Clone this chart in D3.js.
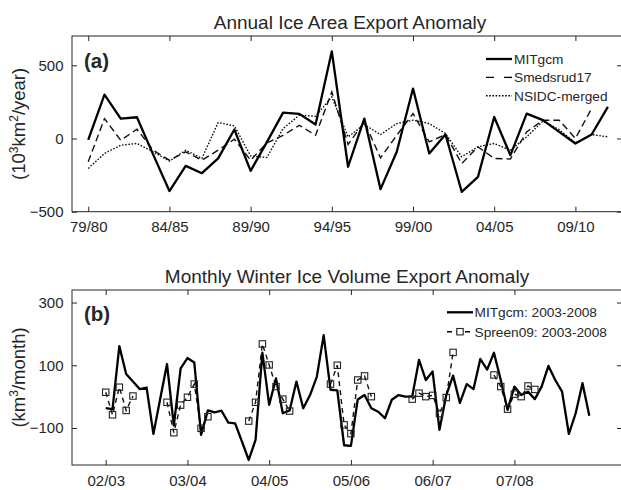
<!DOCTYPE html>
<html>
<head>
<meta charset="utf-8">
<script src="https://cdn.jsdelivr.net/npm/d3@7"></script>
<style>
  html, body { margin: 0; padding: 0; background: #fff; }
  svg { display: block; }
  text { font-family: "Liberation Sans", Arial, Helvetica, sans-serif; fill: #262626; }
</style>
</head>
<body>
<svg id="chart" width="621" height="490"></svg>
<script>
// ---- Panel (a): annual ice area export anomaly (10^3 km^2 / year), seasons 79/80 .. 11/12
const annualSeasonIndex = d3.range(0, 33);           // 0 = 79/80
const annualTickIndex = [0, 5, 10, 15, 20, 25, 30];
const annualTickLabels = ["79/80", "84/85", "89/90", "94/95", "99/00", "04/05", "09/10"];
const annualYTicks = [-500, 0, 500];

const mitgcmAnnual = [-10, 300, 136, 145, -110, -359, -187, -237, -136, 61, -221, -25, 177, 168, 95, 595,
  -193, 136, -346, -91, 341, -102, 27, -364, -262, 147, -114, 170, 125, 45, -34, 27, 216];
const smedsrud17 = [-159, 136, -12, 63, -80, -148, -91, -148, -80, -5, -148, -30, 22, 90, 22, 318,
  -40, 113, -132, 22, 170, -23, 27, -171, -57, -136, -140, 45, 125, 125, 0, 205];
const nsidcMerged = [-205, -102, -46, -34, -91, -155, -80, -136, 109, 86, -119, -130, 68, 159, 152, 284,
  11, 95, 27, 102, 125, 102, 34, -125, -57, -34, -80, 11, 118, 60, -30, 27, 11];

// ---- Panel (b): monthly winter ice volume export anomaly (km^3 / month), months from 02/03 tick
const monthIndex = d3.range(0, 72);
const monthlyTickIndex = [0, 12, 24, 36, 48, 60];
const monthlyTickLabels = ["02/03", "03/04", "04/05", "05/06", "06/07", "07/08"];
const monthlyYTicks = [-100, 100, 300];

const mitgcmMonthly = [-37, -40, 161, 72, 48, 24, 29, -119, -7, 104, -92, 90,
  123, 109, -122, -44, -50, -45, -83, -85, -143, -202, -138, 140,
  -26, 58, -53, -44, 48, -37, 5, 64, 196, 22, 20, -155,
  -157, -9, 5, -37, -48, -69, -10, 5, 0, 0, 117, 53,
  80, -106, 5, 67, -20, 40, 24, 120, 86, 140, 53, -42,
  32, 5, 16, -8, 32, 98, 53, 16, -119, -53, 43, -61];
const spreen09 = [14, -58, 30, -44, 2, null, null, null, null, -18, -115, -27,
  -2, 40, -101, -64, null, null, null, null, null, -78, -18, 168,
  101, 32, -8, -46, null, null, null, null, null, 40, 100, -90,
  -118, 53, 66, 0, null, null, null, null, null, -8, 11, 0,
  4, -54, -3, 141, null, null, null, null, null, 69, 32, -40,
  8, 0, 34, 23, null, null, null, null, null, null, null, null];

const svg = d3.select("#chart");
const left = 72, right = 622;

function frame(g, x, y, xTicks, xLabels, yTicks, top, bottom) {
  g.append("rect")
    .attr("x", left).attr("y", top)
    .attr("width", right - left).attr("height", bottom - top)
    .attr("fill", "none").attr("stroke", "#262626").attr("stroke-width", 1);

  const ax = (axis, tx, ty) => {
    const a = g.append("g").attr("transform", `translate(${tx},${ty})`).call(axis);
    a.select(".domain").remove();
    a.selectAll("line").attr("stroke", "#262626");
    a.selectAll("text").attr("font-size", 15).attr("fill", "#262626")
      .attr("font-family", '"Liberation Sans", Arial, sans-serif');
    return a;
  };
  ax(d3.axisBottom(x).tickValues(xTicks).tickFormat((d, i) => xLabels[i])
      .tickSizeInner(-5).tickSizeOuter(0).tickPadding(10), 0, bottom);
  ax(d3.axisTop(x).tickValues(xTicks).tickFormat("")
      .tickSizeInner(-5).tickSizeOuter(0), 0, top);
  ax(d3.axisLeft(y).tickValues(yTicks).tickFormat(d3.format("d"))
      .tickSizeInner(-5).tickSizeOuter(0).tickPadding(8.5), left, 0);
  ax(d3.axisRight(y).tickValues(yTicks).tickFormat("")
      .tickSizeInner(-5).tickSizeOuter(0), right, 0);
}

function yLabel(g, cx, cy, parts) {
  const t = g.append("text")
    .attr("transform", `translate(${cx},${cy}) rotate(-90)`)
    .attr("text-anchor", "middle")
    .attr("font-size", 18.5);
  parts.forEach(([s, sup]) => {
    const ts = t.append("tspan").text(s);
    if (sup) ts.attr("baseline-shift", "super").attr("font-size", 12);
  });
}

// ================= Panel (a) =================
{
  const top = 36, bottom = 211.7;
  const g = svg.append("g");
  const x = d3.scaleLinear().domain([-1, 32.87]).range([left, right]);
  const y = d3.scaleLinear().domain([-500, 700]).range([bottom, top]);

  frame(g, x, y, annualTickIndex, annualTickLabels, annualYTicks, top, bottom);

  const line = d3.line().x((d, i) => x(annualSeasonIndex[i])).y(d => y(d));

  g.append("path").datum(nsidcMerged).attr("d", line)
    .attr("fill", "none").attr("stroke", "#111").attr("stroke-width", 1.4)
    .attr("stroke-dasharray", "1.6,1.6");
  g.append("path").datum(smedsrud17).attr("d", line)
    .attr("fill", "none").attr("stroke", "#111").attr("stroke-width", 1.4)
    .attr("stroke-dasharray", "7,4");
  g.append("path").datum(mitgcmAnnual).attr("d", line)
    .attr("fill", "none").attr("stroke", "#000").attr("stroke-width", 2.3)
    .attr("stroke-linejoin", "round");

  g.append("text").attr("x", 350).attr("y", 29).attr("text-anchor", "middle")
    .attr("font-size", 19).attr("fill", "#1a1a1a").text("Annual Ice Area Export Anomaly");
  g.append("text").attr("x", 84).attr("y", 68).attr("font-size", 20.5)
    .attr("font-weight", "bold").attr("fill", "#1a1a1a").text("(a)");
  yLabel(g, 25, (top + bottom) / 2, [["(10"], ["3", true], ["km"], ["2", true], ["/year)"]]);

  const legendRows = [
    { name: "MITgcm", w: 2.3, dash: null },
    { name: "Smedsrud17", w: 1.4, dash: "8,10" },
    { name: "NSIDC-merged", w: 1.4, dash: "1.6,1.6" }
  ];
  legendRows.forEach((r, i) => {
    const ly = 59 + i * 18.4;
    g.append("line").attr("x1", 486).attr("x2", 512).attr("y1", ly).attr("y2", ly)
      .attr("stroke", "#000").attr("stroke-width", r.w)
      .attr("stroke-dasharray", r.dash);
    g.append("text").attr("x", 514).attr("y", ly + 5).attr("font-size", 13.7)
      .text(r.name);
  });
}

// ================= Panel (b) =================
{
  const top = 290, bottom = 465;
  const g = svg.append("g");
  const x = d3.scaleLinear().domain([-4.95, 75.8]).range([left, right]);
  const y = d3.scaleLinear().domain([-218, 340]).range([bottom, top]);

  frame(g, x, y, monthlyTickIndex, monthlyTickLabels, monthlyYTicks, top, bottom);

  const line = d3.line()
    .defined(d => d !== null)
    .x((d, i) => x(monthIndex[i])).y(d => y(d));

  g.append("path").datum(spreen09).attr("d", line)
    .attr("fill", "none").attr("stroke", "#111").attr("stroke-width", 1.4)
    .attr("stroke-dasharray", "5,4");
  g.append("path").datum(mitgcmMonthly).attr("d", line)
    .attr("fill", "none").attr("stroke", "#000").attr("stroke-width", 2.3)
    .attr("stroke-linejoin", "round");

  const pts = spreen09.map((v, i) => ({ m: monthIndex[i], v })).filter(d => d.v !== null);
  g.selectAll("rect.sq").data(pts).enter().append("rect").attr("class", "sq")
    .attr("x", d => x(d.m) - 3.2).attr("y", d => y(d.v) - 3.2)
    .attr("width", 6.4).attr("height", 6.4)
    .attr("fill", "none").attr("stroke", "#222").attr("stroke-width", 1.1);

  g.append("text").attr("x", 347).attr("y", 282.5).attr("text-anchor", "middle")
    .attr("font-size", 19).attr("fill", "#1a1a1a").text("Monthly Winter Ice Volume Export Anomaly");
  g.append("text").attr("x", 84).attr("y", 321).attr("font-size", 20.5)
    .attr("font-weight", "bold").attr("fill", "#1a1a1a").text("(b)");
  yLabel(g, 25, (top + bottom) / 2, [["(km"], ["3", true], ["/month)"]]);

  // legend
  const l1 = 312.3, l2 = 331.7;
  g.append("line").attr("x1", 447).attr("x2", 473).attr("y1", l1).attr("y2", l1)
    .attr("stroke", "#000").attr("stroke-width", 2.3);
  g.append("text").attr("x", 474.5).attr("y", l1 + 5).attr("font-size", 13.7)
    .text("MITgcm: 2003-2008");
  g.append("line").attr("x1", 447).attr("x2", 473).attr("y1", l2).attr("y2", l2)
    .attr("stroke", "#000").attr("stroke-width", 1.4).attr("stroke-dasharray", "5,4");
  g.append("rect").attr("x", 460 - 3.2).attr("y", l2 - 3.2).attr("width", 6.4).attr("height", 6.4)
    .attr("fill", "#fff").attr("stroke", "#222").attr("stroke-width", 1.1);
  g.append("text").attr("x", 474.5).attr("y", l2 + 5).attr("font-size", 13.7)
    .text("Spreen09: 2003-2008");
}
</script>
</body>
</html>
